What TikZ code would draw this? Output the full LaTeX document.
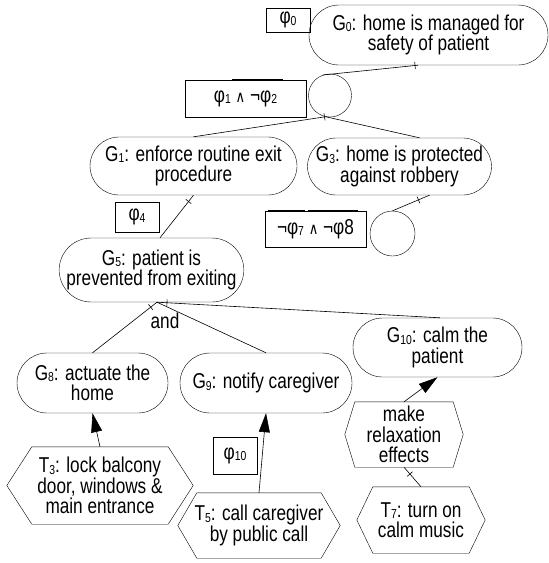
\documentclass[tikz,border=0pt]{standalone}
\usepackage{fontspec}
\setmainfont{Liberation Sans}[FakeStretch=0.8]
\newfontfamily\symfont{DejaVu Sans}[FakeStretch=0.82]
\usetikzlibrary{shapes.misc,arrows.meta,decorations.markings}
\newcommand\sbs[1]{\raisebox{-1.5pt}{\fontsize{13}{13}\selectfont #1}}
\newcommand\andsym{{\symfont\fontsize{16}{16}\selectfont ∧}}
\begin{document}
\begin{tikzpicture}[x=1pt,y=-1pt,
 every node/.style={font=\fontsize{21.5}{20.5}\selectfont, inner sep=0pt},
 goal/.style={rounded rectangle, draw, align=center},
 lbl/.style={draw, rectangle, align=center},
 orc/.style={circle, draw},
 hexn/.style={align=center},
 conn/.style={line width=0.6pt},
 arr/.style={-{Triangle[length=19pt,width=11pt]}},
 tick/.style={postaction={decorate,decoration={markings,mark=at position #1 with {\draw (0,-3.5pt)--(0,3.5pt);}}}},
 thickseg/.style={line width=2.2pt},
]
\useasboundingbox (0,0) rectangle (549,563);
% goals
\node[goal, minimum width=239pt, minimum height=60pt] (g0) at (428.5,35) {G\sbs{0}: home is managed for\\safety of patient};
\node[goal, minimum width=207pt, minimum height=58pt] (g1) at (193.5,166) {G\sbs{1}: enforce routine exit\\procedure};
\node[goal, minimum width=173pt, minimum height=57pt] (g3) at (399.5,166.5) {G\sbs{3}: home is protected\\against robbery};
\node[goal, minimum width=167pt, minimum height=64pt] (g5) at (151.5,270) {G\sbs{5}: patient is\\prevented from exiting};
\node[goal, minimum width=151pt, minimum height=60pt] (g8) at (92.5,383) {G\sbs{8}: actuate the\\home};
\node[goal, minimum width=172pt, minimum height=60pt] (g9) at (266,383) {G\sbs{9}: notify caregiver};
\node[goal, minimum width=169pt, minimum height=59pt] (g10) at (437.5,347.5) {G\sbs{10}: calm the\\patient};
% labels
\node[lbl, minimum width=44pt, minimum height=24pt] (p0) at (288,20) {φ\sbs{0}};
\node[lbl, minimum width=121pt, minimum height=37pt] (p12) at (245.5,98.5) {φ\sbs{1} \andsym\ ¬φ\sbs{2}};
\node[lbl, minimum width=44pt, minimum height=30pt] (p4) at (137,217) {φ\sbs{4}};
\node[lbl, minimum width=101pt, minimum height=36pt] (p78) at (315.5,229) {¬φ\sbs{7} \andsym\ ¬φ8};
\node[lbl, minimum width=44pt, minimum height=37pt] (p10) at (235,455.5) {φ\sbs{10}};
\draw[thickseg] ([xshift=47pt]p12.north west) -- ([xshift=98pt]p12.north west);
\draw[thickseg] ([xshift=3pt]p78.north west) -- ([xshift=40pt]p78.north west);
\draw[thickseg] ([xshift=43pt]p78.north west) -- ([xshift=93pt]p78.north west);
% or-circles
\node[orc, minimum size=43pt] (c1) at (330,95.5) {};
\node[orc, minimum size=45pt] (c2) at (392.5,233.5) {};
% tasks (hexagons)
\node[hexn, minimum width=118pt, minimum height=65pt] (mk) at (404,434.5) {make\\relaxation\\effects};
\node[hexn, minimum width=186pt, minimum height=77pt] (t3) at (100,485.5) {T\sbs{3}: lock balcony\\door, windows \&\\main entrance};
\node[hexn, minimum width=162pt, minimum height=65pt] (t5) at (259,525.5) {T\sbs{5}: call caregiver\\by public call};
\node[hexn, minimum width=128pt, minimum height=66pt] (t7) at (421,520) {T\sbs{7}: turn on\\calm music};
\foreach \n/\d in {mk/10, t3/25, t5/19, t7/16}{
 \draw (\n.west) -- ([xshift=\d pt]\n.north west) -- ([xshift=-\d pt]\n.north east) -- (\n.east) -- ([xshift=-\d pt]\n.south east) -- ([xshift=\d pt]\n.south west) -- cycle;
}
\node (andl) at (165,321) {and};
% connectors
\draw[conn, tick=3pt] ([xshift=-10.5pt]g0.south) -- (c1.109);
\draw[conn, tick=1pt] (c1.258) -- (g1.north);
\draw[conn] (c1.258) -- ([xshift=20pt]g3.north);
\draw[conn, tick=8pt] (g1.south) -- ([xshift=8.5pt]g5.north);
\draw[conn, tick=12pt] ([xshift=30pt]g3.south) -- (c2.north);
\draw[conn, tick=8pt] ([xshift=5.5pt]g5.south) -- (g8.north);
\draw[conn] ([xshift=5.5pt]g5.south) -- (g9.north);
\draw[conn, tick=10pt] ([xshift=5.5pt]g5.south) -- ([xshift=2.5pt]g10.north);
\draw[conn, arr] (mk.north) -- (g10.south);
\draw[conn, tick=9pt] (mk.south) -- (t7.north);
\draw[conn, arr] (t3.north) -- (g8.south);
\draw[conn, arr] (t5.north) -- (g9.south);
\end{tikzpicture}
\end{document}
